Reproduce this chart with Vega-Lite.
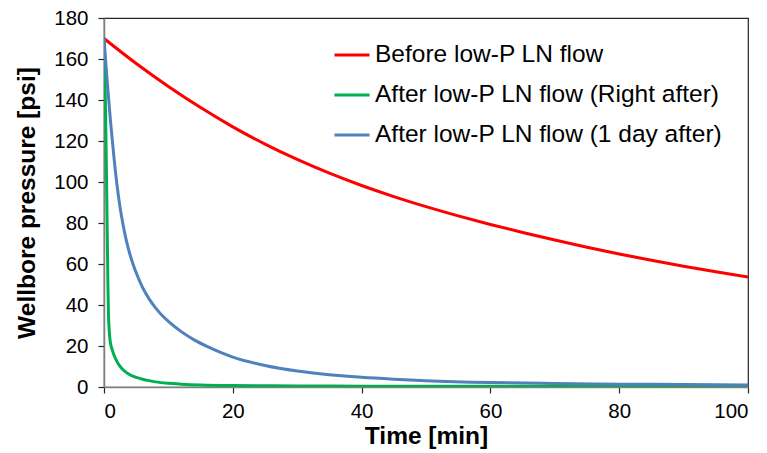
{
  "$schema": "https://vega.github.io/schema/vega-lite/v6.json",
  "width": 644,
  "height": 369,
  "autosize": {"type": "none"},
  "padding": {"left": 104, "top": 18, "right": 19, "bottom": 66},
  "background": "white",
  "config": {
    "font": "Liberation Sans",
    "view": {"stroke": "#262626", "strokeWidth": 1.2},
    "axis": {
      "grid": false,
      "domainColor": "#808080",
      "domainWidth": 1.5,
      "tickColor": "#262626",
      "tickSize": 6,
      "tickWidth": 1.2,
      "labelFont": "Liberation Sans",
      "labelFontSize": 20.5,
      "labelColor": "#000000",
      "titleFont": "Liberation Sans",
      "titleFontSize": 24.5,
      "titleFontWeight": "bold",
      "titleColor": "#000000"
    },
    "legend": {
      "labelFont": "Liberation Sans",
      "labelFontSize": 24.5,
      "labelColor": "#000000",
      "labelLimit": 0
    }
  },
  "data": {
    "values": [
      {"series": "Before low-P LN flow", "t": 0, "p": 170},
      {"series": "Before low-P LN flow", "t": 5, "p": 157.8},
      {"series": "Before low-P LN flow", "t": 10, "p": 146.6},
      {"series": "Before low-P LN flow", "t": 15, "p": 136.3},
      {"series": "Before low-P LN flow", "t": 20, "p": 126.9},
      {"series": "Before low-P LN flow", "t": 25, "p": 118.5},
      {"series": "Before low-P LN flow", "t": 30, "p": 111.0},
      {"series": "Before low-P LN flow", "t": 35, "p": 104.3},
      {"series": "Before low-P LN flow", "t": 40, "p": 98.3},
      {"series": "Before low-P LN flow", "t": 45, "p": 92.9},
      {"series": "Before low-P LN flow", "t": 50, "p": 88.0},
      {"series": "Before low-P LN flow", "t": 55, "p": 83.5},
      {"series": "Before low-P LN flow", "t": 60, "p": 79.3},
      {"series": "Before low-P LN flow", "t": 65, "p": 75.4},
      {"series": "Before low-P LN flow", "t": 70, "p": 71.7},
      {"series": "Before low-P LN flow", "t": 75, "p": 68.2},
      {"series": "Before low-P LN flow", "t": 80, "p": 64.9},
      {"series": "Before low-P LN flow", "t": 85, "p": 61.8},
      {"series": "Before low-P LN flow", "t": 90, "p": 58.9},
      {"series": "Before low-P LN flow", "t": 95, "p": 56.2},
      {"series": "Before low-P LN flow", "t": 100, "p": 53.7},
      {"series": "After low-P LN flow (Right after)", "t": 0, "p": 170},
      {"series": "After low-P LN flow (Right after)", "t": 0.1, "p": 158},
      {"series": "After low-P LN flow (Right after)", "t": 0.2, "p": 142},
      {"series": "After low-P LN flow (Right after)", "t": 0.3, "p": 122},
      {"series": "After low-P LN flow (Right after)", "t": 0.4, "p": 100},
      {"series": "After low-P LN flow (Right after)", "t": 0.5, "p": 76},
      {"series": "After low-P LN flow (Right after)", "t": 0.6, "p": 52},
      {"series": "After low-P LN flow (Right after)", "t": 0.7, "p": 35},
      {"series": "After low-P LN flow (Right after)", "t": 0.8, "p": 28},
      {"series": "After low-P LN flow (Right after)", "t": 0.9, "p": 24},
      {"series": "After low-P LN flow (Right after)", "t": 1.0, "p": 21.5},
      {"series": "After low-P LN flow (Right after)", "t": 1.25, "p": 18.5},
      {"series": "After low-P LN flow (Right after)", "t": 1.5, "p": 16},
      {"series": "After low-P LN flow (Right after)", "t": 2, "p": 12.5},
      {"series": "After low-P LN flow (Right after)", "t": 2.5, "p": 10},
      {"series": "After low-P LN flow (Right after)", "t": 3, "p": 8.3},
      {"series": "After low-P LN flow (Right after)", "t": 4, "p": 6},
      {"series": "After low-P LN flow (Right after)", "t": 5, "p": 4.7},
      {"series": "After low-P LN flow (Right after)", "t": 6, "p": 3.8},
      {"series": "After low-P LN flow (Right after)", "t": 7, "p": 3.1},
      {"series": "After low-P LN flow (Right after)", "t": 8, "p": 2.5},
      {"series": "After low-P LN flow (Right after)", "t": 10, "p": 1.8},
      {"series": "After low-P LN flow (Right after)", "t": 12, "p": 1.4},
      {"series": "After low-P LN flow (Right after)", "t": 15, "p": 1.0},
      {"series": "After low-P LN flow (Right after)", "t": 20, "p": 0.7},
      {"series": "After low-P LN flow (Right after)", "t": 30, "p": 0.5},
      {"series": "After low-P LN flow (Right after)", "t": 40, "p": 0.4},
      {"series": "After low-P LN flow (Right after)", "t": 60, "p": 0.35},
      {"series": "After low-P LN flow (Right after)", "t": 80, "p": 0.3},
      {"series": "After low-P LN flow (Right after)", "t": 100, "p": 0.3},
      {"series": "After low-P LN flow (1 day after)", "t": 0, "p": 170},
      {"series": "After low-P LN flow (1 day after)", "t": 0.5, "p": 149},
      {"series": "After low-P LN flow (1 day after)", "t": 1, "p": 130},
      {"series": "After low-P LN flow (1 day after)", "t": 1.5, "p": 113.5},
      {"series": "After low-P LN flow (1 day after)", "t": 2, "p": 99},
      {"series": "After low-P LN flow (1 day after)", "t": 2.5, "p": 87.5},
      {"series": "After low-P LN flow (1 day after)", "t": 3, "p": 78.5},
      {"series": "After low-P LN flow (1 day after)", "t": 3.5, "p": 71},
      {"series": "After low-P LN flow (1 day after)", "t": 4, "p": 65},
      {"series": "After low-P LN flow (1 day after)", "t": 4.5, "p": 60},
      {"series": "After low-P LN flow (1 day after)", "t": 5, "p": 55.7},
      {"series": "After low-P LN flow (1 day after)", "t": 6, "p": 48.5},
      {"series": "After low-P LN flow (1 day after)", "t": 7, "p": 43},
      {"series": "After low-P LN flow (1 day after)", "t": 8, "p": 38.6},
      {"series": "After low-P LN flow (1 day after)", "t": 9, "p": 35},
      {"series": "After low-P LN flow (1 day after)", "t": 10, "p": 32},
      {"series": "After low-P LN flow (1 day after)", "t": 12, "p": 27},
      {"series": "After low-P LN flow (1 day after)", "t": 14, "p": 23},
      {"series": "After low-P LN flow (1 day after)", "t": 16, "p": 19.8},
      {"series": "After low-P LN flow (1 day after)", "t": 18, "p": 17},
      {"series": "After low-P LN flow (1 day after)", "t": 20, "p": 14.6},
      {"series": "After low-P LN flow (1 day after)", "t": 25, "p": 10.5},
      {"series": "After low-P LN flow (1 day after)", "t": 30, "p": 7.8},
      {"series": "After low-P LN flow (1 day after)", "t": 35, "p": 6},
      {"series": "After low-P LN flow (1 day after)", "t": 40, "p": 4.7},
      {"series": "After low-P LN flow (1 day after)", "t": 45, "p": 3.8},
      {"series": "After low-P LN flow (1 day after)", "t": 50, "p": 3.1},
      {"series": "After low-P LN flow (1 day after)", "t": 60, "p": 2.2},
      {"series": "After low-P LN flow (1 day after)", "t": 70, "p": 1.7},
      {"series": "After low-P LN flow (1 day after)", "t": 80, "p": 1.4},
      {"series": "After low-P LN flow (1 day after)", "t": 90, "p": 1.2},
      {"series": "After low-P LN flow (1 day after)", "t": 100, "p": 1.0}
    ]
  },
  "mark": {"type": "line", "interpolate": "monotone", "strokeWidth": 3, "clip": true},
  "encoding": {
    "x": {
      "field": "t",
      "type": "quantitative",
      "scale": {"domain": [0, 100], "nice": false},
      "axis": {"values": [0, 20, 40, 60, 80, 100], "title": "Time [min]", "labelPadding": 8, "titlePadding": 3}
    },
    "y": {
      "field": "p",
      "type": "quantitative",
      "scale": {"domain": [0, 180], "nice": false},
      "axis": {"values": [0, 20, 40, 60, 80, 100, 120, 140, 160, 180], "title": "Wellbore pressure [psi]", "labelPadding": 10, "titlePadding": 14}
    },
    "color": {
      "field": "series",
      "type": "nominal",
      "scale": {
        "domain": ["Before low-P LN flow", "After low-P LN flow (Right after)", "After low-P LN flow (1 day after)"],
        "range": ["#FF0000", "#00B050", "#4F81BD"]
      },
      "legend": {
        "title": null,
        "orient": "none",
        "legendX": 229,
        "legendY": 18,
        "symbolType": "stroke",
        "symbolSize": 1225,
        "symbolStrokeWidth": 3,
        "rowPadding": 9,
        "labelOffset": 4
      }
    }
  }
}
